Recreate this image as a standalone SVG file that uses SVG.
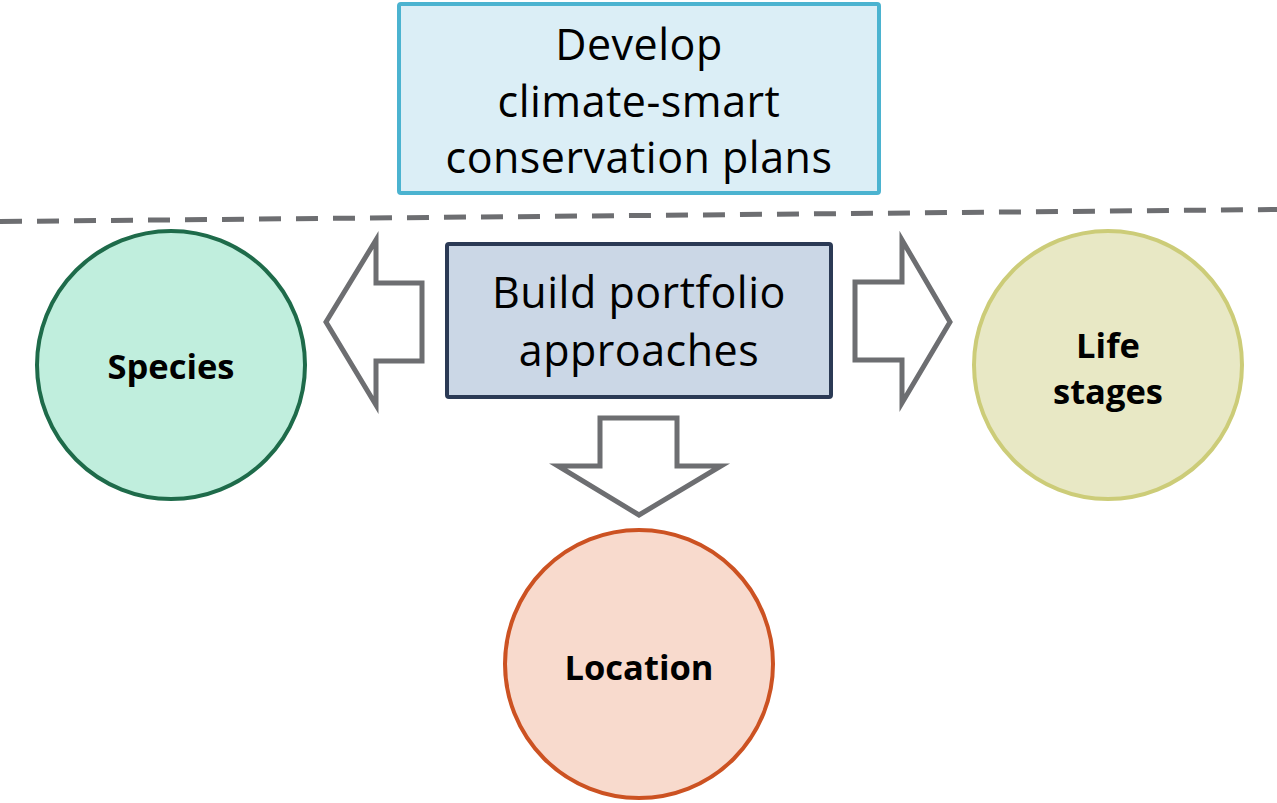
<svg xmlns="http://www.w3.org/2000/svg" width="1277" height="803" viewBox="0 0 1277 803">
<style>
.big{font-family:"Open Sans","Liberation Sans",sans-serif;font-size:43px;letter-spacing:0.5px;fill:#000;text-anchor:middle}
.lbl{font-family:"Open Sans","Liberation Sans",sans-serif;font-weight:bold;font-size:34.5px;fill:#000;text-anchor:middle}
.arrow{fill:#fff;stroke:#6d6e71;stroke-width:5;stroke-linejoin:miter}
</style>
<rect width="1277" height="803" fill="#fff"/>
<g id="develop">
<rect x="399" y="4" width="480" height="189" rx="2" fill="#dbeef6" stroke="#4bb3d0" stroke-width="4"/>
<text class="big" x="639" y="60">Develop</text>
<text class="big" x="639" y="117">climate-smart</text>
<text class="big" x="639" y="173">conservation plans</text>
</g>
<g id="divider">
<line x1="0" y1="221.5" x2="1277" y2="209.5" stroke="#6d6e71" stroke-width="5" stroke-dasharray="22,15"/>
</g>
<g id="build">
<rect x="447" y="244" width="384" height="153" rx="2" fill="#cbd7e6" stroke="#2b3a55" stroke-width="4"/>
<text class="big" x="639" y="308">Build portfolio</text>
<text class="big" x="639" y="366">approaches</text>
</g>
<g id="connectors">
<polygon class="arrow" points="422,283 376,283 376,240 326,322 376,405 376,361 422,361"/>
<polygon class="arrow" points="855,282 902,282 902,240 950,322 902,403 902,360 855,360"/>
<polygon class="arrow" points="600,418 677,418 677,466 721,466 639,515 558,466 600,466"/>
</g>
<g id="species">
<circle cx="171" cy="365" r="134" fill="#c0eedd" stroke="#1e6b4a" stroke-width="4"/>
<text class="lbl" x="171" y="379">Species</text>
</g>
<g id="lifestages">
<circle cx="1108" cy="365" r="134" fill="#e8e8c5" stroke="#cccc78" stroke-width="4"/>
<text class="lbl" x="1108" y="358">Life</text>
<text class="lbl" x="1108" y="404">stages</text>
</g>
<g id="location">
<circle cx="639" cy="664" r="134" fill="#f8dacd" stroke="#cc5222" stroke-width="4"/>
<text class="lbl" x="639" y="680">Location</text>
</g>
</svg>
